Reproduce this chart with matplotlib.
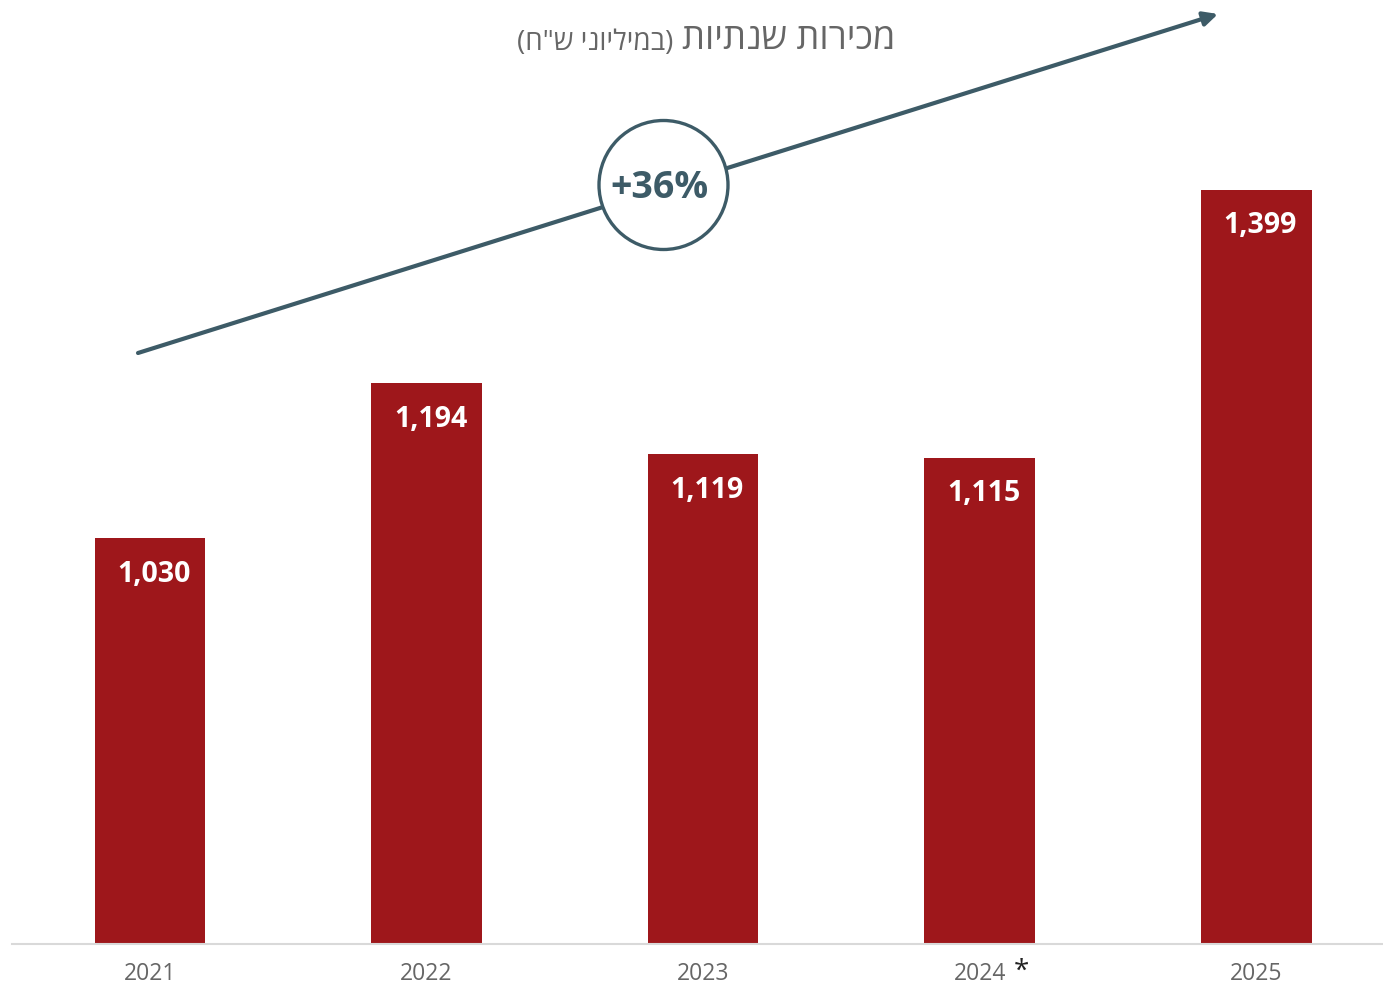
import matplotlib
matplotlib.use("Agg")
import matplotlib.pyplot as plt
from matplotlib.patches import Circle

plt.rcParams['font.family'] = ['Open Sans', 'DejaVu Sans']

years = ['2021', '2022', '2023', '2024', '2025']
sales = [1030, 1194, 1119, 1115, 1399]
labels = ['1,030', '1,194', '1,119', '1,115', '1,399']
title_main = 'מכירות שנתיות'
title_sub = '(במיליוני ש"ח)'
growth = '+36%'


def visual(s):
    r = s[::-1]
    return r.translate(str.maketrans('()', ')('))


BAR = '#9e171b'
SLATE = '#3d5b67'

fig = plt.figure(figsize=(13.83, 9.88), dpi=100)
ax = fig.add_axes([12 / 1383, 44 / 988, 1371 / 1383, 944 / 988])
x = list(range(len(years)))
ax.bar(x, sales, width=0.4, color=BAR, zorder=2)
ax.set_ylim(600, 1600)
ax.set_xlim(-0.499, 4.458)
for s in ['top', 'right', 'left']:
    ax.spines[s].set_visible(False)
ax.spines['bottom'].set_color('#d9d9d9')
ax.spines['bottom'].set_linewidth(1.5)
ax.set_yticks([])
ax.set_xticks(x)
ax.set_xticklabels(years, fontsize=16.5, color='#666666')
ax.tick_params(axis='x', length=0, pad=13)

for xi, v, lab in zip(x, sales, labels):
    ax.annotate(lab, (xi, v), xytext=(4, -36), textcoords='offset pixels',
                ha='center', va='center', color='white', fontsize=20.5,
                fontweight='bold', zorder=3)

# asterisk for 2024
ax.annotate('*', (3, 600), xytext=(42, -28), textcoords='offset pixels',
            ha='center', va='center', fontsize=20, color='#222222',
            annotation_clip=False)

# title
fig.text(895 / 1383, 1 - 40 / 988, visual(title_main), ha='right', va='center',
         fontsize=26, color='#666666')
fig.text(673 / 1383, 1 - 43 / 988, visual(title_sub), ha='right', va='center',
         fontsize=20, color='#666666')

# growth arrow
fig.add_artist(plt.Annotation('', xy=(1218, 988 - 14), xytext=(138, 988 - 353),
                              xycoords='figure pixels', textcoords='figure pixels',
                              arrowprops=dict(arrowstyle='-|>,head_length=0.85,head_width=0.42',
                                              color=SLATE, lw=3, shrinkA=0, shrinkB=0)))
circ = Circle((6.635, (988 - 185) / 100), 0.645, transform=fig.dpi_scale_trans,
              facecolor='white', edgecolor=SLATE, lw=2.4, zorder=5)
fig.add_artist(circ)
fig.text(659 / 1383, 1 - 188 / 988, growth, ha='center', va='center', fontsize=27,
         fontweight='bold', color=SLATE, zorder=6)

fig.savefig('out.png', dpi=100, facecolor='white')
